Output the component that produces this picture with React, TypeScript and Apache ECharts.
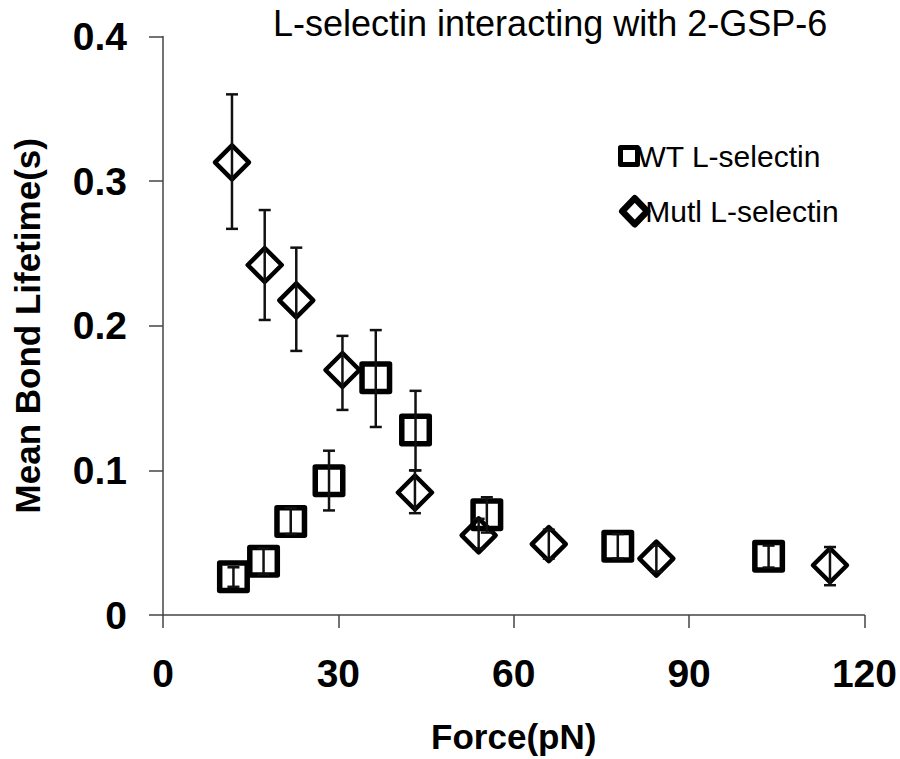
import React, { useEffect, useRef } from "react";
import * as echarts from "echarts";

// WT L-selectin
const wtForce = [12.05, 17.2, 21.85, 28.4, 36.4, 43.2, 55.4, 77.8, 103.6];
const wtLifetime = [0.0264, 0.0372, 0.0647, 0.0929, 0.164, 0.128, 0.0693, 0.0475, 0.0406];
const wtErrLow = [0.0195, 0.028, 0.056, 0.0723, 0.13, 0.1, 0.057, 0.039, 0.0328];
const wtErrHigh = [0.033, 0.046, 0.074, 0.1136, 0.197, 0.155, 0.0814, 0.056, 0.048];

// Mutl L-selectin
const mutForce = [11.8, 17.4, 22.8, 30.7, 43.1, 54.0, 66.0, 84.4, 114.1];
const mutLifetime = [0.313, 0.242, 0.2175, 0.1694, 0.0847, 0.055, 0.049, 0.039, 0.0344];
const mutErrLow = [0.267, 0.204, 0.1826, 0.1418, 0.0704, 0.046, 0.039, 0.03, 0.0206];
const mutErrHigh = [0.36, 0.28, 0.254, 0.193, 0.1, 0.0665, 0.059, 0.048, 0.047];

const xTicks = [0, 30, 60, 90, 120];
const yTicks = [0, 0.1, 0.2, 0.3, 0.4];

const titleText = "L-selectin interacting with 2-GSP-6";
const xName = "Force(pN)";
const yName = "Mean Bond Lifetime(s)";
const wtName = "WT L-selectin";
const mutName = "Mutl L-selectin";

const SANS = "'Liberation Sans', Arial, sans-serif";

function errRender(params: any, api: any) {
  const x = api.value(0);
  const lo = api.value(1);
  const hi = api.value(2);
  const top = api.coord([x, hi]);
  const bot = api.coord([x, lo]);
  const w = 6;
  const style = { stroke: "#111", lineWidth: 2.5 };
  return {
    type: "group",
    children: [
      { type: "line", shape: { x1: top[0], y1: top[1], x2: bot[0], y2: bot[1] }, style },
      { type: "line", shape: { x1: top[0] - w, y1: top[1], x2: top[0] + w, y2: top[1] }, style },
      { type: "line", shape: { x1: bot[0] - w, y1: bot[1], x2: bot[0] + w, y2: bot[1] }, style },
    ],
  };
}

export default function App() {
  const ref = useRef<HTMLDivElement>(null);
  useEffect(() => {
    document.body.style.margin = "0";
    if (!ref.current) return;
    const chart = echarts.init(ref.current, null, { renderer: "svg" });
    const axisLabelStyle = { fontFamily: SANS, fontWeight: "bold" as const, fontSize: 39, color: "#000" };
    const nameStyle = { fontFamily: SANS, fontWeight: "bold" as const, fontSize: 35, color: "#000" };
    chart.setOption({
      animation: false,
      backgroundColor: "#fff",
      title: {
        text: titleText,
        left: 268,
        top: 0,
        textStyle: { fontFamily: SANS, fontWeight: "normal", fontSize: 36, color: "#000" },
      },
      legend: [
        {
          data: [wtName],
          left: 618,
          top: 141,
          icon: "rect",
          itemWidth: 17,
          itemHeight: 17,
          itemGap: 0,
          itemStyle: { color: "rgba(0,0,0,0)", borderColor: "#000", borderWidth: 5 },
          textStyle: { fontFamily: SANS, fontSize: 30, color: "#000", padding: [0, 0, 0, -5] },
          padding: 0,
          selectedMode: false,
        },
        {
          data: [mutName],
          left: 619,
          top: 195,
          icon: "diamond",
          itemWidth: 25,
          itemHeight: 26,
          itemGap: 0,
          itemStyle: { color: "rgba(0,0,0,0)", borderColor: "#000", borderWidth: 6.5 },
          textStyle: { fontFamily: SANS, fontSize: 30, color: "#000", padding: [0, 0, 0, -7] },
          padding: 0,
          selectedMode: false,
        },
      ],
      grid: { left: 163, right: 30, top: 36.5, bottom: 144, containLabel: false },
      xAxis: {
        type: "value",
        min: xTicks[0],
        max: xTicks[xTicks.length - 1],
        interval: 30,
        name: xName,
        nameLocation: "middle",
        nameGap: 104,
        nameTextStyle: nameStyle,
        axisLine: { lineStyle: { color: "#444", width: 1.5 } },
        axisTick: { show: true, length: 13, lineStyle: { color: "#444", width: 1.5 } },
        axisLabel: { ...axisLabelStyle, margin: 39 },
        splitLine: { show: false },
      },
      yAxis: {
        type: "value",
        min: yTicks[0],
        max: yTicks[yTicks.length - 1],
        interval: 0.1,
        name: yName,
        nameLocation: "middle",
        nameGap: 118,
        nameTextStyle: nameStyle,
        axisLine: { show: true, lineStyle: { color: "#444", width: 1.5 } },
        axisTick: { show: true, length: 14, lineStyle: { color: "#444", width: 1.5 } },
        axisLabel: { ...axisLabelStyle, margin: 36 },
        splitLine: { show: false },
      },
      series: [
        {
          name: "WT err",
          type: "custom",
          renderItem: errRender,
          encode: { x: 0, y: [1, 2] },
          data: wtForce.map((f, i) => [f, wtErrLow[i], wtErrHigh[i]]),
          z: 3,
        },
        {
          name: "Mutl err",
          type: "custom",
          renderItem: errRender,
          encode: { x: 0, y: [1, 2] },
          data: mutForce.map((f, i) => [f, mutErrLow[i], mutErrHigh[i]]),
          z: 3,
        },
        {
          name: wtName,
          type: "scatter",
          symbol: "rect",
          symbolSize: 27.5,
          data: wtForce.map((f, i) => [f, wtLifetime[i]]),
          itemStyle: { color: "rgba(0,0,0,0)", borderColor: "#000", borderWidth: 5.5, borderJoin: "round", opacity: 1 },
          z: 2,
        },
        {
          name: mutName,
          type: "scatter",
          symbol: "diamond",
          symbolSize: 34,
          data: mutForce.map((f, i) => [f, mutLifetime[i]]),
          itemStyle: { color: "rgba(0,0,0,0)", borderColor: "#000", borderWidth: 4.5, borderJoin: "round", opacity: 1 },
          z: 2,
        },
      ],
    });
    return () => chart.dispose();
  }, []);
  return <div ref={ref} style={{ width: 900, height: 759 }} />;
}
